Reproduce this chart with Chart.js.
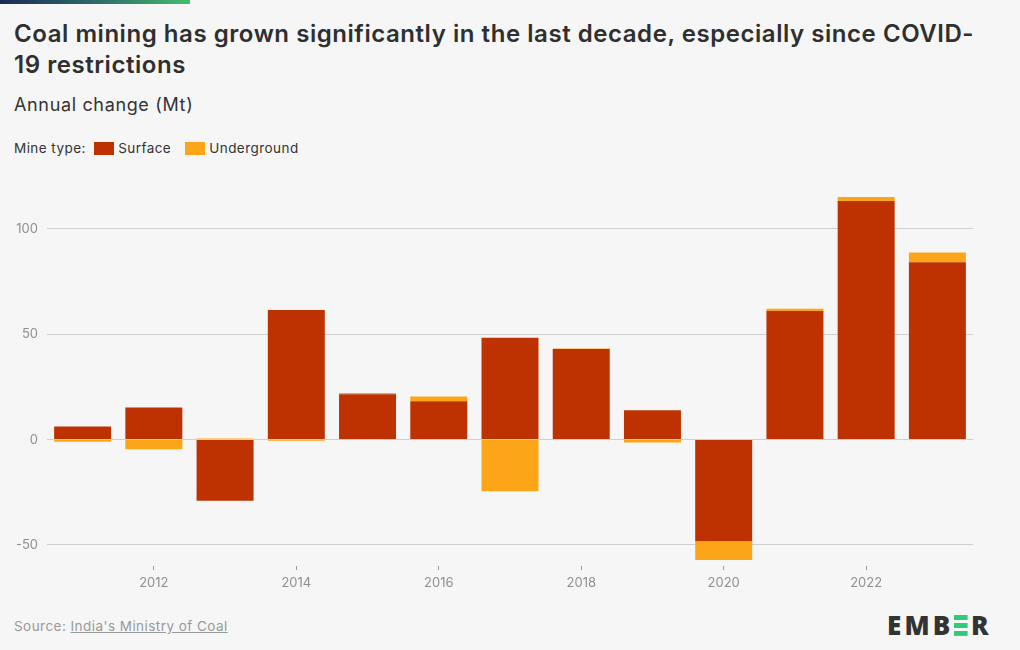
<!DOCTYPE html>
<html>
<head>
<meta charset="utf-8">
<script src="https://cdn.jsdelivr.net/npm/chart.js@4"></script>
<style>
  html, body { margin: 0; padding: 0; }
  body { width: 1020px; height: 650px; background: #f6f6f6; position: relative; overflow: hidden; font-family: Inter, "Open Sans", sans-serif; color: #333; }
  #topbar { position: absolute; left: 0; top: 0; width: 190px; height: 4px; background: linear-gradient(to right, #1c2a55, #2d6a6a 50%, #44bd6e); }
  #title { position: absolute; left: 14px; top: 18px; font-size: 24px; font-weight: 600; line-height: 31px; white-space: nowrap; color: #2f2f2f; letter-spacing: 0.55px; }
  #subtitle { position: absolute; left: 14px; top: 94px; font-size: 18px; color: #333; letter-spacing: 0.65px; }
  #legend { position: absolute; left: 14px; top: 140px; font-size: 13.5px; color: #333; display: flex; align-items: center; white-space: nowrap; letter-spacing: 0.45px; }
  .sw { display: inline-block; width: 20px; height: 13px; margin-right: 4px; }
  #chartwrap { position: absolute; left: 0; top: 170px; width: 1000px; height: 430px; }
  #source { position: absolute; left: 14px; top: 618px; font-size: 13.5px; color: #999; letter-spacing: 0.45px; }
  #source a { color: #999; text-decoration: underline; }
  #logo { position: absolute; left: 887px; top: 607px; font-size: 26px; font-weight: 800; color: #333; letter-spacing: 3.2px; font-family: "Open Sans", Inter, sans-serif; }
  #logo .g { color: transparent; background: linear-gradient(to bottom, #2ecc7a 0 22%, transparent 22% 39%, #2ecc7a 39% 61%, transparent 61% 78%, #2ecc7a 78% 100%); background-size: 80% 58%; background-position: 0 52%; background-repeat: no-repeat; }
</style>
</head>
<body>
<div id="topbar"></div>
<div id="title">Coal mining has grown significantly in the last decade, especially since COVID-<br>19 restrictions</div>
<div id="subtitle">Annual change (Mt)</div>
<div id="legend">Mine type:&nbsp;<span class="sw" style="margin-left:4px;background:#bd3200"></span>Surface<span class="sw" style="margin-left:14px;background:#fda519"></span>Underground</div>
<div id="chartwrap"><canvas id="c"></canvas></div>
<div id="source">Source: <a>India's Ministry of Coal</a></div>
<div id="logo">EMB<span class="g">E</span>R</div>
<script>
const years = ['2011','2012','2013','2014','2015','2016','2017','2018','2019','2020','2021','2022','2023'];
const surface = [6.2, 15.2, -29.0, 61.5, 21.5, 18.2, 48.3, 43.0, 13.9, -48.3, 61.0, 113.3, 84.2];
const underground = [-1.0, -4.6, 0.5, -0.5, 0.6, 2.2, -24.5, 0.2, -1.4, -8.9, 1.1, 1.9, 4.6];
const yTicks = [-50, 0, 50, 100];
const xLabelled = ['2012','2014','2016','2018','2020','2022'];

new Chart(document.getElementById('c'), {
  type: 'bar',
  data: {
    labels: years,
    datasets: [
      { label: 'Surface', data: surface, backgroundColor: '#bd3200', borderWidth: 0 },
      { label: 'Underground', data: underground, backgroundColor: '#fda519', borderWidth: 0 }
    ]
  },
  options: {
    responsive: true,
    maintainAspectRatio: false,
    animation: false,
    layout: { padding: { top: 16, right: 27, left: 0, bottom: 0 } },
    plugins: { legend: { display: false }, tooltip: { enabled: false }, title: { display: false } },
    datasets: { bar: { categoryPercentage: 1.0, barPercentage: 0.8 } },
    scales: {
      x: {
        stacked: true,
        offset: true,
        border: { display: false },
        grid: {
          offset: false,
          drawOnChartArea: false,
          drawTicks: true,
          tickLength: 4,
          color: (ctx) => (ctx.tick && xLabelled.includes(years[ctx.index])) ? '#9a9a9a' : 'rgba(0,0,0,0)'
        },
        ticks: {
          autoSkip: false,
          maxRotation: 0,
          padding: 5,
          color: '#8f8f8f',
          font: { family: 'Inter, "Open Sans", sans-serif', size: 13 },
          callback: function(v, i) { const l = years[i]; return xLabelled.includes(l) ? l : ''; }
        },
        afterFit: (s) => { s.height = 34; }
      },
      y: {
        stacked: true,
        min: -60,
        max: 120,
        border: { display: false },
        grid: { color: '#cfcfcf', lineWidth: 1, drawTicks: false },
        ticks: {
          padding: 9,
          color: '#8f8f8f',
          font: { family: 'Inter, "Open Sans", sans-serif', size: 13 }
        },
        afterBuildTicks: (s) => { s.ticks = yTicks.map(v => ({ value: v })); },
        afterFit: (s) => { s.width = 47; }
      }
    }
  }
});
</script>
</body>
</html>
